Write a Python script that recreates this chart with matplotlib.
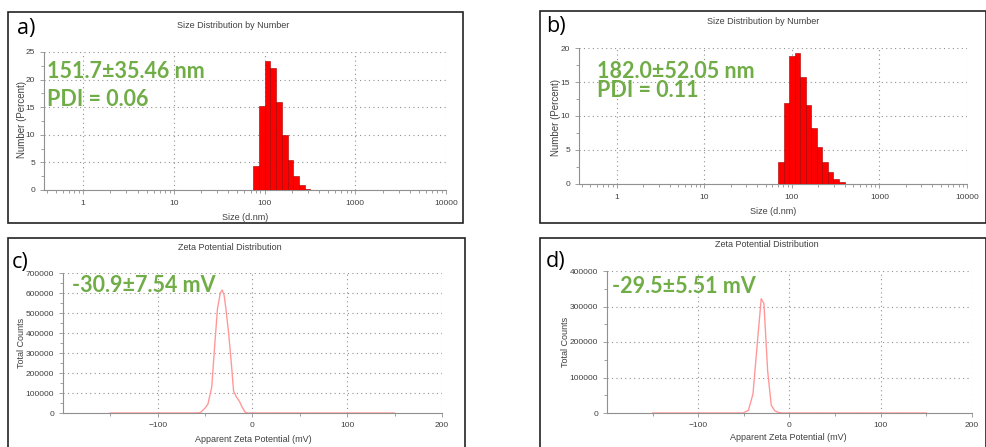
import numpy as np
import matplotlib.pyplot as plt
from matplotlib.patches import Rectangle
from matplotlib.ticker import FixedLocator, MultipleLocator, FuncFormatter

# ============================================================
# DATOS
# ============================================================
# bordes izquierdos de las barras (nm), paso logaritmico de Malvern
bins_a = [75.0, 86.7, 100.2, 115.8, 133.9, 154.8, 179.0, 206.9, 239.2, 276.6]
pct_a = [4.4, 15.3, 23.4, 22.1, 15.9, 9.9, 5.4, 2.5, 0.9, 0.2]

bins_b = [70.0, 80.9, 93.5, 108.1, 125.0, 144.5, 167.1, 193.2, 223.3, 258.2, 298.5, 345.1]
pct_b = [3.3, 11.9, 18.8, 19.2, 15.7, 11.6, 8.3, 5.4, 3.2, 1.7, 0.7, 0.25]
ratio_bin = 1.156

size_ticks = [1, 10, 100, 1000, 10000]
size_labels = ["1", "10", "100", "1000", "10000"]

zeta_c = [-150, -60, -55, -50, -47, -43, -40, -37, -34, -32, -30, -28, -25,
          -22, -20, -17, -14, -11, -8, -5, 0, 150]
counts_c = [0, 0, 2000, 25000, 45000, 130000, 330000, 520000, 600000, 615000,
            590000, 520000, 390000, 230000, 110000, 80000, 60000, 30000, 5000,
            0, 0, 0]

zeta_d = [-150, -51, -45, -40, -35, -31, -28, -24, -20, -16, -12, -7, 150]
counts_d = [0, 0, 7500, 54000, 205000, 322000, 308000, 120000, 21600, 6000,
            1500, 0, 0]

zeta_ticks = [-100, 0, 100, 200]

textos = {
    "a": ("151.7\u00b135.46 nm", "PDI = 0.06"),
    "b": ("182.0\u00b152.05 nm", "PDI = 0.11"),
    "c": ("-30.9\u00b17.54 mV",),
    "d": ("-29.5\u00b15.51 mV",),
}

# ============================================================
# FIGURA
# ============================================================
W, H = 987, 447
fig = plt.figure(figsize=(W / 100, H / 100), dpi=100)
plt.rcParams["font.family"] = ["Liberation Sans", "DejaVu Sans"]

GRIS = "#404040"
VERDE = "#70ad47"


def caja(x0, y0, x1, y1):
    # coordenadas en pixeles, origen arriba a la izquierda
    return [x0 / W, 1 - y1 / H, (x1 - x0) / W, (y1 - y0) / H]


def pt(x, y):
    return x / W, 1 - y / H


def estilo(ax):
    for s in ["top", "right"]:
        ax.spines[s].set_visible(False)
    for s in ["left", "bottom"]:
        ax.spines[s].set_color("#909090")
        ax.spines[s].set_linewidth(0.8)
    ax.tick_params(which="both", colors="#909090", labelcolor=GRIS,
                   labelsize=6, direction="out", width=0.6)
    ax.tick_params(which="major", length=3)
    ax.tick_params(which="minor", length=2)
    ax.grid(True, which="major", color="#909090", linestyle=(0, (1, 3)), linewidth=0.8)
    ax.set_axisbelow(True)


# marcos de cada panel
for x0, y0, x1, y1 in [(8, 12, 463, 223), (540, 11, 986, 223),
                       (8, 238, 465, 448), (540, 238, 986, 448)]:
    fig.add_artist(Rectangle(pt(x0, y1), (x1 - x0) / W, (y1 - y0) / H,
                             transform=fig.transFigure, fill=False,
                             edgecolor="#222222", linewidth=1.2))

# ============================================================
# HISTOGRAMAS DE TAMANO
# ============================================================
paneles_size = [
    ("a", caja(44, 52, 446, 190), bins_a, pct_a, 25, 5),
    ("b", caja(579, 48, 967, 184), bins_b, pct_b, 20, 5),
]
for nombre, pos, bins, pct, ymax, paso in paneles_size:
    ax = fig.add_axes(pos)
    estilo(ax)
    ancho = [b * (ratio_bin - 1) for b in bins]
    ax.bar(bins, pct, width=ancho, align="edge", color="#ff0000",
           edgecolor="#a00000", linewidth=0.4, zorder=3)
    ax.set_xscale("log")
    ax.set_xlim(0.37, 10000)
    ax.set_ylim(0, ymax)
    ax.xaxis.set_major_locator(FixedLocator(size_ticks))
    ax.xaxis.set_major_formatter(FuncFormatter(lambda v, p: size_labels[size_ticks.index(int(round(v)))] if int(round(v)) in size_ticks else ""))
    ax.yaxis.set_major_locator(MultipleLocator(paso))
    ax.yaxis.set_minor_locator(MultipleLocator(paso / 2))
    ax.tick_params(axis="x", which="minor", labelbottom=False)
    ax.tick_params(axis="x", which="major", pad=4)

# titulos y etiquetas de los histogramas
fig.text(*pt(233, 25), "Size Distribution by Number", ha="center", va="center", fontsize=6.5, color=GRIS)
fig.text(*pt(245, 217), "Size (d.nm)", ha="center", va="center", fontsize=6.5, color=GRIS)
fig.text(*pt(22, 120), "Number (Percent)", ha="center", va="center", fontsize=7, color=GRIS, rotation=90)
fig.text(*pt(763, 22), "Size Distribution by Number", ha="center", va="center", fontsize=6.5, color=GRIS)
fig.text(*pt(773, 211), "Size (d.nm)", ha="center", va="center", fontsize=6.5, color=GRIS)
fig.text(*pt(556, 117), "Number (Percent)", ha="center", va="center", fontsize=7, color=GRIS, rotation=90)

# ============================================================
# POTENCIAL ZETA
# ============================================================
paneles_zeta = [
    ("c", caja(63, 273, 442, 413), zeta_c, counts_c, 700000),
    ("d", caja(607, 271, 972, 413), zeta_d, counts_d, 400000),
]
for nombre, pos, zx, zy, ymax in paneles_zeta:
    ax = fig.add_axes(pos)
    estilo(ax)
    ax.plot(zx, zy, color="#ff9999", linewidth=1.0, zorder=3)
    ax.set_xlim(-200, 200)
    ax.set_ylim(0, ymax)
    ax.xaxis.set_major_locator(FixedLocator(zeta_ticks))
    ax.xaxis.set_minor_locator(FixedLocator([-150, -50, 50, 150]))
    ax.yaxis.set_major_locator(MultipleLocator(100000))
    ax.yaxis.set_minor_locator(MultipleLocator(50000))
    ax.yaxis.set_major_formatter(FuncFormatter(lambda v, p: f"{int(v)}"))

fig.text(*pt(230, 247), "Zeta Potential Distribution", ha="center", va="center", fontsize=6.5, color=GRIS)
fig.text(*pt(253, 439), "Apparent Zeta Potential (mV)", ha="center", va="center", fontsize=6.5, color=GRIS)
fig.text(*pt(22, 343), "Total Counts", ha="center", va="center", fontsize=6.5, color=GRIS, rotation=90)
fig.text(*pt(767, 245), "Zeta Potential Distribution", ha="center", va="center", fontsize=6.5, color=GRIS)
fig.text(*pt(788, 438), "Apparent Zeta Potential (mV)", ha="center", va="center", fontsize=6.5, color=GRIS)
fig.text(*pt(565, 342), "Total Counts", ha="center", va="center", fontsize=6.5, color=GRIS, rotation=90)

# ============================================================
# ETIQUETAS DE PANEL Y TEXTO VERDE
# ============================================================
for letra, (x, y) in {"a": (17, 34), "b": (546, 32), "c": (12, 268), "d": (546, 267)}.items():
    fig.text(*pt(x, y), letra + ")", ha="left", va="baseline", fontsize=15.5,
             color="black", family=["Open Sans", "DejaVu Sans"])

# posiciones de linea base de cada texto verde
pos_verde = {"a": [(47, 78), (47, 106)], "b": [(597, 78), (597, 97)],
             "c": [(72, 292)], "d": [(612, 293)]}
for letra, lineas in textos.items():
    for (x, y), t in zip(pos_verde[letra], lineas):
        fig.text(*pt(x, y), t, ha="left", va="baseline", fontsize=15.5,
                 fontweight="bold", color=VERDE, family=["Lato", "DejaVu Sans"])

fig.savefig("out.png", dpi=100)
